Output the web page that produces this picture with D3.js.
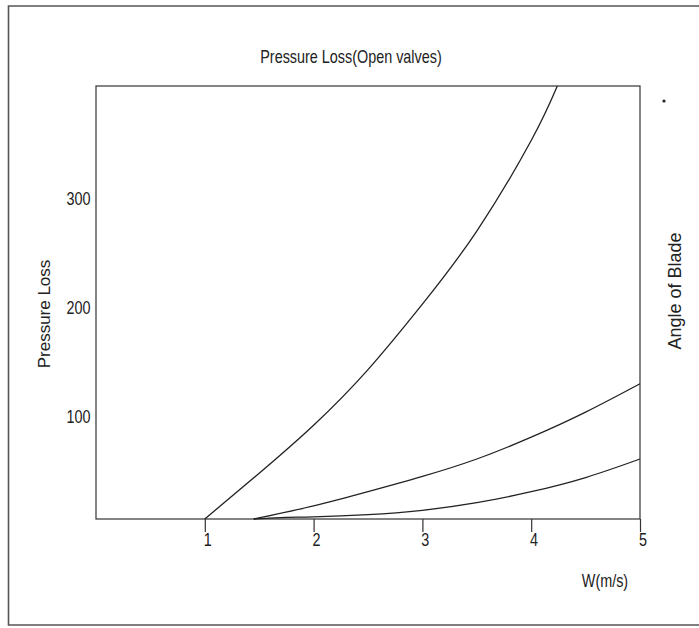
<!DOCTYPE html>
<html>
<head>
<meta charset="utf-8">
<script src="https://cdn.jsdelivr.net/npm/d3@7"></script>
<style>
  body { margin: 0; background: #fff; }
  svg { display: block; }
</style>
</head>
<body>
<div class="visData"></div>
<script>
const w = 699;
const h = 628;

// plot box
const boxLeft = 96, boxRight = 640, boxTop = 86, boxBottom = 519;
const font = "Liberation Sans, Arial, sans-serif";
const squeeze = 0.8; // the scan uses a condensed face

// data
const xTicks = [1, 2, 3, 4, 5];
const yTicks = [100, 200, 300];

const curve1X = [1, 1.5, 2, 2.5, 3, 3.5, 4, 4.24];
const curve1Y = [6, 48, 92, 143, 203, 270, 353, 403];

const curve2X = [1.45, 2, 2.5, 3, 3.5, 4, 4.5, 5];
const curve2Y = [6, 18, 31, 45, 61, 81, 104, 130];

const curve3X = [1.45, 1.75, 2, 2.5, 3, 3.5, 4, 4.5, 5];
const curve3Y = [6, 7.5, 8, 10, 14, 21, 31, 44, 61];

const svg = d3
  .select(".visData")
  .append("svg")
  .attr("width", w)
  .attr("height", h);

// outer frame (right side runs off the page)
svg
  .append("path")
  .attr("d", `M${w + 5},6 H8.5 V625 H${w + 5}`)
  .attr("fill", "none")
  .attr("stroke", "#555")
  .attr("stroke-width", 1.6);

const xScale = d3.scaleLinear().domain([0, 5]).range([boxLeft, boxRight]);
const yScale = d3.scaleLinear().domain([6, 403]).range([boxBottom, boxTop]);

// box round the plot
svg
  .append("rect")
  .attr("x", boxLeft)
  .attr("y", boxTop)
  .attr("width", boxRight - boxLeft)
  .attr("height", boxBottom - boxTop)
  .attr("fill", "none")
  .attr("stroke", "#333")
  .attr("stroke-width", 1.2);

// x axis
const xAxis = d3.axisBottom(xScale).tickValues(xTicks).tickSize(13).tickPadding(1).tickFormat(d3.format("d"));
const gx = svg
  .append("g")
  .attr("transform", `translate(0, ${boxBottom})`)
  .call(xAxis);
gx.select(".domain").remove();
gx.selectAll("line").attr("stroke", "#333").attr("stroke-width", 1.2);
gx.selectAll("text")
  .attr("font-family", font)
  .attr("font-size", 18)
  .attr("fill", "#222")
  .attr("dx", 3)
  .attr("transform", `scale(${squeeze},1)`);

// y axis, labels only
const yAxis = d3.axisLeft(yScale).tickValues(yTicks).tickSize(0).tickPadding(7);
const gy = svg
  .append("g")
  .attr("transform", `translate(${boxLeft},0)`)
  .call(yAxis);
gy.select(".domain").remove();
gy.selectAll("text")
  .attr("font-family", font)
  .attr("font-size", 18)
  .attr("fill", "#222")
  .attr("transform", `scale(${squeeze},1)`);

// curves
const line = d3
  .line()
  .x((d) => xScale(d[0]))
  .y((d) => yScale(d[1]))
  .curve(d3.curveNatural);

[
  [curve1X, curve1Y],
  [curve2X, curve2Y],
  [curve3X, curve3Y],
].forEach(([xs, ys]) => {
  svg
    .append("path")
    .datum(xs.map((x, i) => [x, ys[i]]))
    .attr("d", line)
    .attr("fill", "none")
    .attr("stroke", "#222")
    .attr("stroke-width", 1.3);
});

// texts
svg
  .append("text")
  .attr("transform", `translate(351, 63) scale(${squeeze},1)`)
  .attr("text-anchor", "middle")
  .attr("font-family", font)
  .attr("font-size", 18)
  .attr("fill", "#222")
  .text("Pressure Loss(Open valves)");

svg
  .append("text")
  .attr("transform", `translate(605, 587) scale(${squeeze},1)`)
  .attr("text-anchor", "middle")
  .attr("font-family", font)
  .attr("font-size", 18)
  .attr("fill", "#222")
  .text("W(m/s)");

svg
  .append("text")
  .attr("transform", "translate(50, 314) rotate(-90)")
  .attr("text-anchor", "middle")
  .attr("font-family", font)
  .attr("font-size", 17)
  .attr("fill", "#222")
  .text("Pressure Loss");

svg
  .append("text")
  .attr("transform", "translate(681, 291) rotate(-90)")
  .attr("text-anchor", "middle")
  .attr("font-family", font)
  .attr("font-size", 18)
  .attr("fill", "#222")
  .text("Angle of Blade");

// stray dot at the top right
svg
  .append("circle")
  .attr("cx", 664)
  .attr("cy", 101)
  .attr("r", 1.6)
  .attr("fill", "#222");
</script>
</body>
</html>
